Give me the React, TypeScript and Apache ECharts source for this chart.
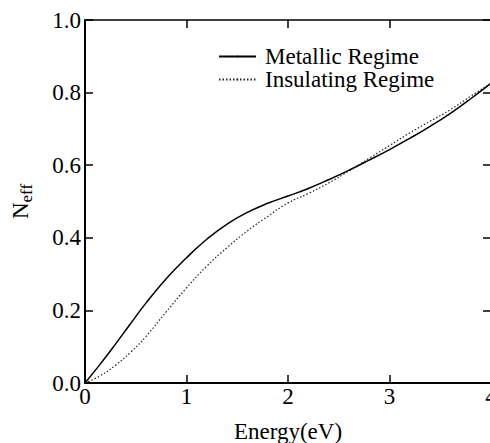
import React, { useEffect, useRef } from 'react';
import * as echarts from 'echarts';

const energy = [0, 0.15, 0.3, 0.45, 0.6, 0.8, 1.0, 1.2, 1.4, 1.6, 1.8, 2.0, 2.2, 2.4, 2.6, 2.8, 3.0, 3.2, 3.4, 3.6, 3.8, 4.0];
const metallic = [0, 0.052, 0.107, 0.164, 0.22, 0.287, 0.345, 0.396, 0.438, 0.47, 0.495, 0.515, 0.536, 0.56, 0.586, 0.614, 0.643, 0.674, 0.707, 0.743, 0.783, 0.826];
const insulating = [0, 0.02, 0.049, 0.085, 0.128, 0.196, 0.262, 0.322, 0.373, 0.419, 0.459, 0.496, 0.522, 0.551, 0.584, 0.619, 0.654, 0.689, 0.721, 0.753, 0.79, 0.826];
const seriesNames = ['Metallic Regime', 'Insulating Regime'];
const xAxisTitle = 'Energy(eV)';

const FONT = "'Liberation Serif', 'Times New Roman', serif";
const FS = 23;

export default function App() {
  const ref = useRef<HTMLDivElement>(null);
  useEffect(() => {
    const chart = echarts.init(ref.current!, null, { renderer: 'svg' });
    const toPairs = (ys: number[]) => energy.map((x, i) => [x, ys[i]]);
    const axisCommon = {
      type: 'value' as const,
      splitLine: { show: false },
      axisLine: { show: true, onZero: false, lineStyle: { color: '#000', width: 2 } },
      axisTick: { show: true, inside: true, length: 8, lineStyle: { color: '#000', width: 1.5 } },
    };
    chart.setOption({
      animation: false,
      backgroundColor: '#fff',
      grid: { left: 85, top: 20, width: 406, height: 363, outerBoundsMode: 'none', containLabel: false },
      legend: {
        left: 213,
        top: 40,
        orient: 'vertical',
        itemWidth: 37,
        itemHeight: 2,
        itemGap: 0,
        textStyle: { fontFamily: FONT, fontSize: FS, lineHeight: 23, color: '#000', padding: [0, 0, 0, 4] },
        data: seriesNames,
      },
      xAxis: [
        {
          ...axisCommon,
          position: 'bottom',
          min: 0,
          max: 4,
          interval: 1,
          name: xAxisTitle,
          nameLocation: 'middle',
          nameGap: 37,
          nameTextStyle: { fontFamily: FONT, fontSize: FS, color: '#000' },
          axisLabel: { fontFamily: FONT, fontSize: FS, color: '#000', margin: 2 },
        },
        {
          ...axisCommon,
          position: 'top',
          min: 0,
          max: 4,
          interval: 1,
          axisLine: { show: true, onZero: false, lineStyle: { color: '#000', width: 1.5 } },
          axisLabel: { show: false },
        },
      ],
      yAxis: [
        {
          ...axisCommon,
          position: 'left',
          min: 0,
          max: 1,
          interval: 0.2,
          name: '{n|N}{s|eff}',
          nameLocation: 'middle',
          nameGap: 50,
          nameRotate: 90,
          nameTextStyle: {
            fontFamily: FONT,
            color: '#000',
            rich: {
              n: { fontFamily: FONT, fontSize: FS, color: '#000' },
              s: { fontFamily: FONT, fontSize: 17, color: '#000', verticalAlign: 'bottom', padding: [12, 0, 0, 0] },
            },
          },
          axisLabel: {
            fontFamily: FONT,
            fontSize: FS,
            color: '#000',
            margin: 4,
            formatter: (v: number) => v.toFixed(1),
          },
        },
        {
          ...axisCommon,
          position: 'right',
          min: 0,
          max: 1,
          interval: 0.2,
          axisLine: { show: true, onZero: false, lineStyle: { color: '#000', width: 1.5 } },
          axisLabel: { show: false },
        },
      ],
      series: [
        {
          name: seriesNames[0],
          type: 'line',
          smooth: true,
          showSymbol: false,
          symbol: 'none',
          data: toPairs(metallic),
          lineStyle: { color: '#000', width: 1.5, type: 'solid' },
          itemStyle: { color: '#000' },
        },
        {
          name: seriesNames[1],
          type: 'line',
          smooth: true,
          showSymbol: false,
          symbol: 'none',
          data: toPairs(insulating),
          lineStyle: { color: '#222', width: 1.2, type: [1.5, 2] },
          itemStyle: { color: '#222' },
        },
      ],
    });
    return () => chart.dispose();
  }, []);
  return (
    <div
      ref={ref}
      style={{ position: 'fixed', left: 0, top: 0, width: 490, height: 443, background: '#fff' }}
    />
  );
}
